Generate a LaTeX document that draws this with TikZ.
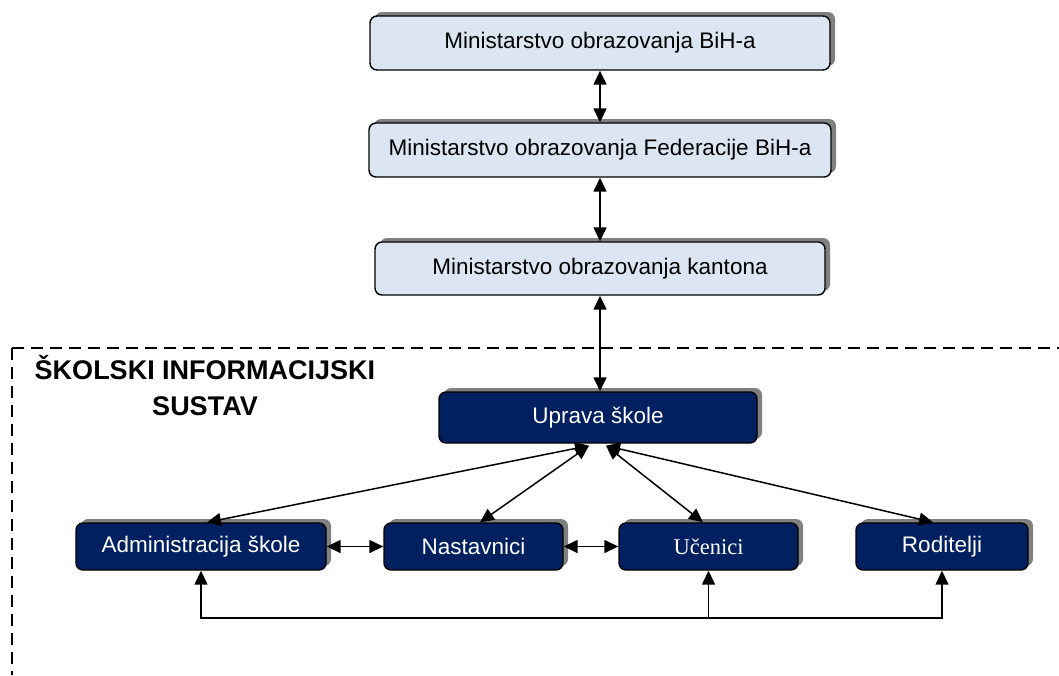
\documentclass[tikz,border=0pt]{standalone}
\usepackage{fontspec}
\setmainfont{Liberation Sans}
\newfontfamily\timesf{Liberation Serif}
\usetikzlibrary{shadows,arrows.meta,calc}
\definecolor{lightbox}{HTML}{DCE6F2}
\definecolor{navybg}{HTML}{002060}
\definecolor{shadowgray}{HTML}{808080}
\begin{document}
\begin{tikzpicture}[x=1pt,y=-1pt,
  box/.style={draw=black, line width=1.4pt, rounded corners=7pt, inner sep=0pt,
    font=\fontsize{22.5}{27}\selectfont,
    drop shadow={shadow xshift=5pt, shadow yshift=4pt, fill=shadowgray, opacity=1}},
  topbox/.style={box, fill=lightbox, text=black},
  navybox/.style={box, fill=navybg, text=white},
  con/.style={line width=1.5pt, {Triangle[length=14pt,width=13pt]}-{Triangle[length=14pt,width=13pt]}},
  conone/.style={line width=1.5pt, -{Triangle[length=14pt,width=13pt]}},
  frame/.style={line width=1.3pt, dash pattern=on 12pt off 7pt}]
\useasboundingbox (0,0) rectangle (1059,675);
% frame
\coordinate (fc) at (12,348);
\coordinate (fr) at (1059,348);
\coordinate (fb) at (12,675);
\draw[frame] (fc) -- (fr);
\draw[frame] (fc) -- (fb);
\node[font=\bfseries\fontsize{27}{36}\selectfont, align=center] (T) at (205,386) {ŠKOLSKI INFORMACIJSKI\\SUSTAV};
% boxes
\node[topbox, minimum width=460pt, minimum height=54pt] (M1) at (600,43) {Ministarstvo obrazovanja BiH-a};
\node[topbox, minimum width=462pt, minimum height=54pt] (M2) at (600,150) {Ministarstvo obrazovanja Federacije BiH-a};
\node[topbox, minimum width=450pt, minimum height=53pt] (M3) at (600,268.5) {Ministarstvo obrazovanja kantona};
\node[navybox, minimum width=318pt, minimum height=51pt] (U) at (598,417.5) {Uprava škole};
\node[navybox, minimum width=250pt, minimum height=47pt] (A) at (201,546.5) {Administracija škole};
\node[navybox, minimum width=179pt, minimum height=47pt] (N) at (473.5,546.5) {Nastavnici};
\node[navybox, minimum width=179pt, minimum height=47pt] (C) at (708.5,546.5) {\timesf Učenici};
\node[navybox, minimum width=172pt, minimum height=47pt] (R) at (942,546.5) {Roditelji};
% vertical connectors
\draw[con] (M1.south) -- (M1.south |- M2.north);
\draw[con] (M2.south) -- (M2.south |- M3.north);
\draw[con] (M3.south) -- (M3.south |- U.north);
% from Uprava
\coordinate (UL) at ($(U.south)+(-9,2)$);
\coordinate (UR) at ($(U.south)+(8,2)$);
\draw[con] (UL) -- ($(A.north)+(6,0)$);
\draw[con] (UL) -- ($(N.north)+(6.5,0)$);
\draw[con] (UR) -- ($(C.north)+(-5.5,0)$);
\draw[con] (UR) -- ($(R.north)+(-9,0)$);
% horizontal
\draw[con] (A.east) -- (N.west);
\draw[con] (N.east) -- (C.west);
% bottom
\coordinate (yb) at (0,618);
\draw[con] (A.south) -- (A.south |- yb) -- (R.south |- yb) -- (R.south);
\draw[conone] (C.south |- yb) -- (C.south);
\end{tikzpicture}
\end{document}
